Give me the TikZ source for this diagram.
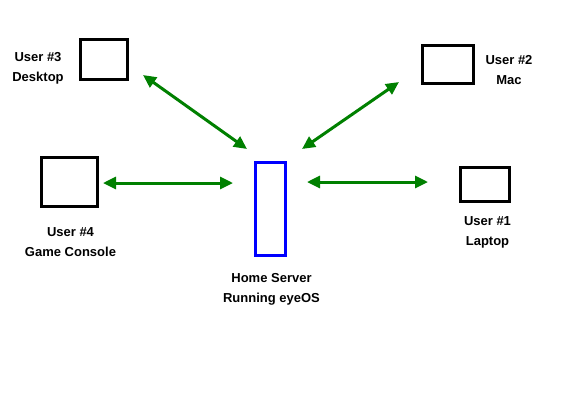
\documentclass[tikz,border=0pt]{standalone}
\usepackage{fontspec}
\setmainfont{Liberation Sans}
\usepackage{tikz}
\usetikzlibrary{arrows.meta}

\definecolor{linkgreen}{RGB}{0,128,0}
\definecolor{serverblue}{RGB}{0,0,255}

\tikzset{
  pcbox/.style={draw=black,line width=3pt,inner sep=0pt},
  srvbox/.style={draw=serverblue,line width=3pt,inner sep=0pt},
  lbl/.style={align=center,inner sep=0pt,font=\fontsize{13}{20}\selectfont\bfseries},
  link/.style={linkgreen,line width=3pt,{Triangle[length=13pt,width=12pt]}-{Triangle[length=13pt,width=12pt]}}
}

\begin{document}
\begin{tikzpicture}[x=1pt,y=-1pt]
    \useasboundingbox (0,0) rectangle (580,400);
    % machines
    \node[pcbox,minimum width=47pt,minimum height=40pt] (desktop) at (104,59.5) {};
    \node[pcbox,minimum width=51pt,minimum height=38pt] (mac) at (448,64.5) {};
    \node[pcbox,minimum width=56pt,minimum height=49pt] (console) at (69.5,182) {};
    \node[pcbox,minimum width=49pt,minimum height=34pt] (laptop) at (485,184.5) {};
    \node[srvbox,minimum width=30pt,minimum height=93pt] (server) at (270.5,209) {};
    % labels
    \node[lbl] (desktoplbl) at (38,68) {User \#3\\Desktop};
    \node[lbl] (maclbl) at (509,70) {User \#2\\Mac};
    \node[lbl] (consolelbl) at (70.5,242) {User \#4\\Game Console};
    \node[lbl] (laptoplbl) at (487.5,232) {User \#1\\Laptop};
    \node[lbl] (serverlbl) at (271.5,289) {Home Server\\Running eyeOS};
    % link end points
    \coordinate (d1) at (143,75);   \coordinate (d2) at (247,149);
    \coordinate (m1) at (399,82);   \coordinate (m2) at (302,149);
    \coordinate (c1) at (103,183);  \coordinate (c2) at (233,183);
    \coordinate (l1) at (307,182);  \coordinate (l2) at (428,182);
    \draw[link] (d1) -- (d2);
    \draw[link] (m1) -- (m2);
    \draw[link] (c1) -- (c2);
    \draw[link] (l1) -- (l2);
\end{tikzpicture}
\end{document}
